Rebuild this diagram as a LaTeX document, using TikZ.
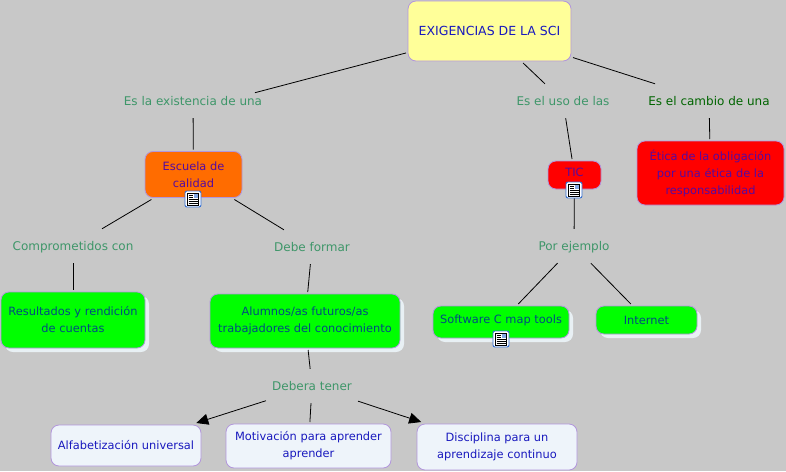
\documentclass[tikz,border=0pt]{standalone}
\usepackage{fontspec}
\setmainfont{DejaVu Sans}
\usetikzlibrary{arrows.meta, shadows}

\definecolor{bgGray}{RGB}{200,200,200}
\definecolor{boxEdge}{RGB}{178,150,220}
\definecolor{labelGreen}{RGB}{62,150,105}
\definecolor{darkLabel}{RGB}{0,100,0}
\definecolor{boxText}{RGB}{25,25,190}
\definecolor{greenText}{RGB}{0,75,130}
\definecolor{warmText}{RGB}{85,10,160}
\definecolor{paleBox}{RGB}{238,244,250}
\definecolor{shadowTone}{RGB}{232,240,244}
\definecolor{iconBlue}{RGB}{50,110,210}
\definecolor{rootFill}{RGB}{255,255,153}

\tikzset{
    concept/.style={draw=boxEdge, line width=0.8pt, rounded corners=8pt, align=center, inner sep=0pt, outer sep=2pt,
        font=\fontsize{11.4}{17}\selectfont, text=boxText},
    shadowed/.style={copy shadow={shadow xshift=4pt, shadow yshift=-4pt, fill=shadowTone, draw=none}},
    greenbox/.style={concept, fill=green, text=greenText},
    palebox/.style={concept, fill=paleBox},
    linklabel/.style={font=\fontsize{12}{17}\selectfont, text=labelGreen, minimum height=34pt, inner xsep=6pt, inner ysep=0pt,
        text height=11pt, text depth=3pt},
    link/.style={line width=0.8pt, black},
    bigtip/.style={-{Triangle[length=12pt, width=11pt]}},
    iconbox/.style={draw=iconBlue, fill=white, line width=0.9pt, rounded corners=2pt, minimum size=16pt, inner sep=0pt}
}

\newcommand{\docicon}[2]{
    \node[iconbox] (#1) at (#2) {};
    \begin{scope}[shift={(#2)}]
        \draw[black, fill=white, line width=0.4pt] (-5.5,-6) rectangle (5.5,6);
        \fill[iconBlue!60] (0.5,-5.5) rectangle (5,-1.5);
        \foreach \yy in {-3.5,-1.5} \draw[black, line width=0.4pt] (-4.5,\yy) -- (-0.5,\yy);
        \foreach \yy in {0.5,2.5,4.5} \draw[black, line width=0.4pt] (-4.5,\yy) -- (4.5,\yy);
    \end{scope}
}

\begin{document}
\begin{tikzpicture}[x=1pt, y=-1pt]
    \useasboundingbox (0,0) rectangle (786,471);
    \fill[bgGray] (0,0) rectangle (786,471);

    % top concept and the first row of link labels
    \node[concept, fill=rootFill, font=\fontsize{12.5}{17}\selectfont, minimum width=163pt, minimum height=60pt] (exigencias) at (489.5,31) {EXIGENCIAS DE LA SCI};
    \node[linklabel] (existencia) at (193,101) {Es la existencia de una};
    \node[linklabel] (uso) at (563,101) {Es el uso de las};
    \node[linklabel, text=darkLabel] (cambio) at (709,101) {Es el cambio de una};

    % second row
    \node[concept, fill=orange!85!red, text=warmText, minimum width=97pt, minimum height=46pt] (escuela) at (193.5,174.5) {Escuela de\\calidad};
    \node[concept, fill=red, text=warmText, minimum width=53pt, minimum height=28pt, text depth=6pt] (tic) at (574.5,175) {TIC};
    \node[concept, fill=red, text=warmText, minimum width=147pt, minimum height=64pt] (etica) at (710.5,173) {Ética de la obligación\\por una ética de la\\responsabilidad};

    \node[linklabel] (comprometidos) at (73,246) {Comprometidos con};
    \node[linklabel] (formar) at (312,247) {Debe formar};
    \node[linklabel] (ejemplo) at (574,246) {Por ejemplo};

    % third row, these carry a shadow
    \node[greenbox, shadowed, minimum width=144pt, minimum height=56pt] (resultados) at (73,320) {Resultados y rendición\\de cuentas};
    \node[greenbox, shadowed, minimum width=190pt, minimum height=54pt] (alumnos) at (305,321) {Alumnos/as futuros/as\\trabajadores del conocimiento};
    \node[greenbox, shadowed, minimum width=136pt, minimum height=32pt, text depth=5pt] (software) at (501,322) {Software C map tools};
    \node[greenbox, shadowed, minimum width=101pt, minimum height=28pt] (internet) at (646.5,320) {Internet};

    \node[linklabel] (debera) at (312,386) {Debera tener};

    % bottom row
    \node[palebox, minimum width=150pt, minimum height=41pt] (alfabetizacion) at (126,445.5) {Alfabetización universal};
    \node[palebox, minimum width=165pt, minimum height=44pt] (motivacion) at (308.5,446) {Motivación para aprender\\aprender};
    \node[palebox, minimum width=160pt, minimum height=46pt] (disciplina) at (497,447) {Disciplina para un\\aprendizaje continuo};

    \draw[link, shorten >=64pt] (exigencias) -- ([yshift=-8pt]existencia.center);
    \draw[link] (exigencias) -- (uso);
    \draw[link] (exigencias) -- (cambio);
    \draw[link] (existencia) -- (escuela);
    \draw[link] (uso) -- (tic);
    \draw[link] (cambio) -- (etica);
    \draw[link] (escuela) -- (comprometidos);
    \draw[link] (escuela) -- (formar);
    \draw[link] (tic) -- (ejemplo);
    \draw[link] (comprometidos) -- (resultados);
    \draw[link] (formar) -- (alumnos);
    \draw[link] (ejemplo) -- (software);
    \draw[link] (ejemplo) -- (internet);
    \draw[link] (alumnos) -- (debera);
    \draw[link, bigtip] (debera) -- (alfabetizacion);
    \draw[link] (debera) -- (motivacion);
    \draw[link, bigtip] (debera) -- (disciplina);

    % document marks
    \docicon{iconEscuela}{193,199}
    \docicon{iconTic}{574,190}
    \docicon{iconSoftware}{501,339}
\end{tikzpicture}
\end{document}
